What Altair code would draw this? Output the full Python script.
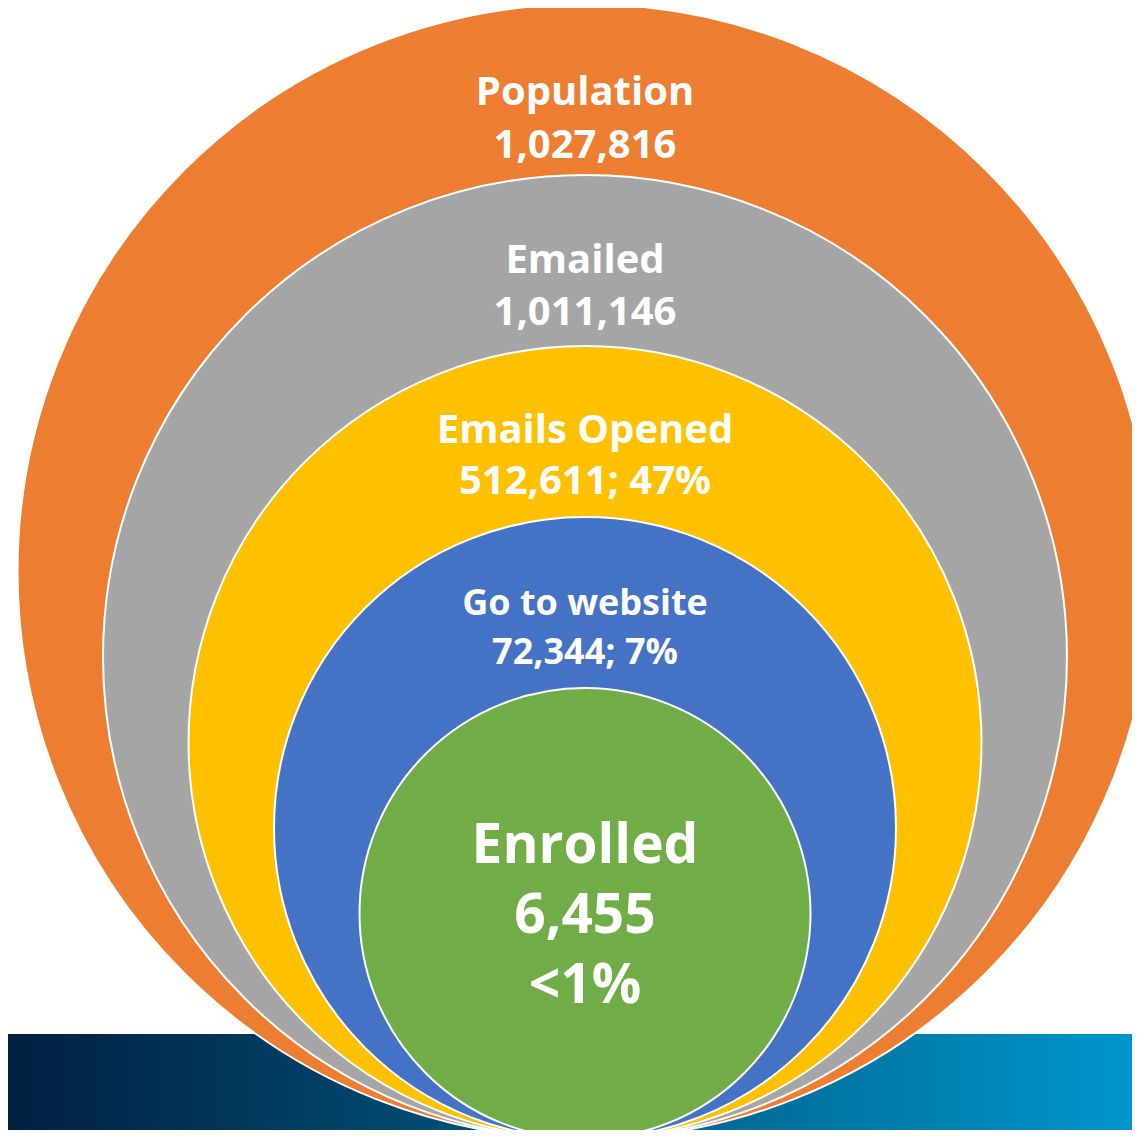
import math
import altair as alt
import pandas as pd

# ---- data ----
stages = ["Population", "Emailed", "Emails Opened", "Go to website", "Enrolled"]
counts = [1027816, 1011146, 512611, 72344, 6455]
pcts = ["", "", "47%", "7%", "<1%"]
colors = ["#ED7D31", "#A5A5A5", "#FFC000", "#4472C4", "#70AD47"]

# ---- layout (reference pixel coordinates) ----
W, H = 1124, 1122
X0, Y0 = 8, 8
cx = 585
bottom = 1139
tops = [4, 175, 346, 517, 688]

circles = pd.DataFrame({
    "stage": stages,
    "order": list(range(5)),
    "cx": [cx] * 5,
    "cy": [(t + bottom) / 2 for t in tops],
    "area": [(bottom - t) ** 2 for t in tops],  # symbol size = diameter^2
})

# label lines
name_base = [105, 273, 443, 615, 863]
num_base = [158, 325, 494, 664, 933]
sizes = [40, 40, 40, 36, 55]
rows = []
for i, s in enumerate(stages):
    num = f"{counts[i]:,}"
    rows.append({"t": s, "y": name_base[i], "fs": sizes[i]})
    if i == 4:
        rows.append({"t": num, "y": num_base[i], "fs": sizes[i]})
        rows.append({"t": pcts[i], "y": 1003, "fs": sizes[i]})
    elif pcts[i]:
        rows.append({"t": f"{num}; {pcts[i]}", "y": num_base[i], "fs": sizes[i]})
    else:
        rows.append({"t": num, "y": num_base[i], "fs": sizes[i]})
labels = pd.DataFrame(rows)
labels["x"] = cx

xs = alt.Scale(domain=[X0, X0 + W])
ys = alt.Scale(domain=[Y0, Y0 + H], reverse=True)

band = alt.Chart(pd.DataFrame({"a": [1034], "b": [1145]})).mark_rect(
    clip=True,
    fill=alt.Gradient(
        gradient="linear",
        stops=[
            alt.GradientStop(color="#011F40", offset=0),
            alt.GradientStop(color="#005A82", offset=0.5),
            alt.GradientStop(color="#0095CB", offset=1),
        ],
        x1=0, x2=1, y1=0, y2=0,
    ),
).encode(
    x=alt.value(0),
    x2=alt.value(W),
    y=alt.Y("a:Q", scale=ys, axis=None),
    y2="b:Q",
)

rings = alt.Chart(circles).mark_point(
    shape="circle", filled=True, opacity=1, stroke="white", strokeWidth=2, clip=True
).encode(
    x=alt.X("cx:Q", scale=xs, axis=None),
    y=alt.Y("cy:Q", scale=ys, axis=None),
    size=alt.Size("area:Q", scale=None),
    order=alt.Order("order:Q"),
    color=alt.Color("stage:N", scale=alt.Scale(domain=stages, range=colors), legend=None),
)

text = alt.Chart(labels).mark_text(
    font="Open Sans", fontWeight="bold", color="white", baseline="alphabetic", align="center"
).encode(
    x=alt.X("x:Q", scale=xs, axis=None),
    y=alt.Y("y:Q", scale=ys, axis=None),
    text="t:N",
    size=alt.Size("fs:Q", scale=None),
)

chart = alt.layer(band, rings, text).properties(
    width=W, height=H, autosize=alt.AutoSizeParams(type="none"), padding=0
).configure_view(stroke=None)

chart.save("out.html", embed_options={"renderer": "svg", "actions": False})
